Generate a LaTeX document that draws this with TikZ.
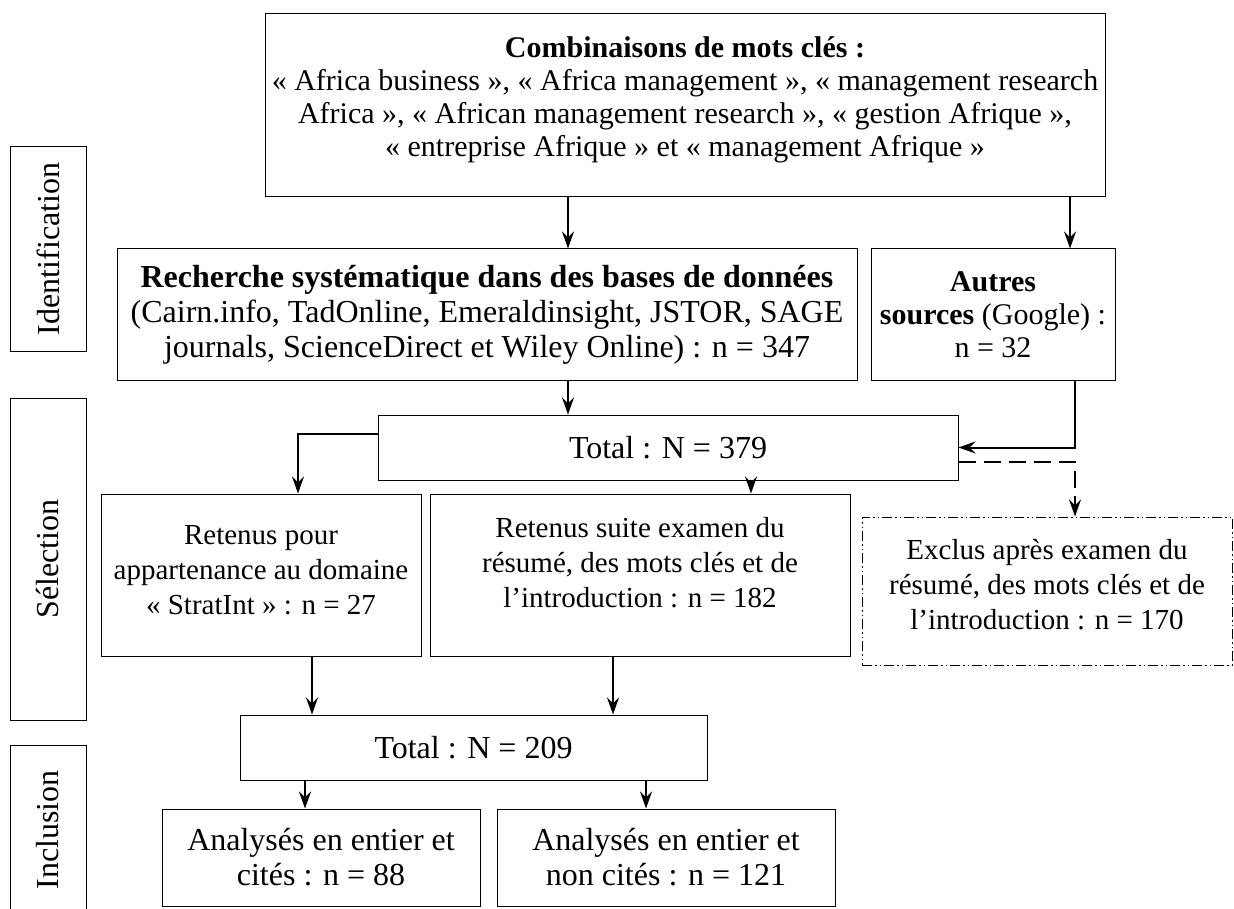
\documentclass[tikz,border=0pt]{standalone}
\usepackage{fontspec}
\setmainfont{Liberation Serif}
\usetikzlibrary{arrows.meta}
\tikzset{
  box/.style={draw, line width=1pt, align=center, inner sep=2pt,
    font=\fontsize{32}{35}\selectfont},
  midbox/.style={box, font=\fontsize{30}{33}\selectfont},
  smallbox/.style={box, font=\fontsize{29}{35}\selectfont},
  lab/.style={draw, line width=1pt, minimum height=76pt, rotate=90,
    font=\fontsize{32}{35}\selectfont},
  arr/.style={line width=2pt, -{Stealth[length=17pt, width=12pt, inset=6pt]}},
  dasharr/.style={arr, dash pattern=on 17pt off 8pt},
  dashdotbox/.style={smallbox, dash pattern=on 10pt off 3pt on 1.5pt off 3pt on 1.5pt off 3pt}
}

\begin{document}
\begin{tikzpicture}[x=1pt, y=-1pt]
		%%%%% START %%%%%
		\useasboundingbox (0, 0) rectangle (1234, 909);
		
		% left labels
		\node[lab, minimum width=205pt] (labid) at (48, 249) {Identification};
		\node[lab, minimum width=322pt] (labsel) at (48, 559) {Sélection};
		\node[lab, minimum width=170pt] (labinc) at (48, 830) {Inclusion};
		
		% identification
		\node[midbox, minimum width=840pt, minimum height=183pt] (keys) at (685, 105.5)
		  {\textbf{Combinaisons de mots clés :}\\
		   « Africa business », « Africa management », « management research\\
		   Africa », « African management research », « gestion Afrique »,\\
		   « entreprise Afrique » et « management Afrique »\\[-15pt]\mbox{}};
		\node[box, minimum width=740pt, minimum height=131pt] (rech) at (487, 314.5)
		  {\textbf{Recherche systématique dans des bases de données}\\
		   (Cairn.info, TadOnline, Emeraldinsight, JSTOR, SAGE\\
		   journals, ScienceDirect et Wiley Online) : n = 347};
		\node[midbox, minimum width=244pt, minimum height=131pt] (autres) at (993, 314.5)
		  {\textbf{Autres}\\\textbf{sources} (Google) :\\n = 32};
		\node[box, minimum width=580pt, minimum height=65pt] (tot1) at (668, 447.5)
		  {Total : N = 379};
		
		% selection
		\node[smallbox, minimum width=320pt, minimum height=162pt] (ret1) at (261, 575)
		  {Retenus pour\\appartenance au domaine\\« StratInt » : n = 27\\[-25pt]\mbox{}};
		\node[smallbox, minimum width=420pt, minimum height=162pt] (ret2) at (640, 575)
		  {Retenus suite examen du\\résumé, des mots clés et de\\l’introduction : n = 182\\[-9pt]\mbox{}};
		\node[dashdotbox, minimum width=370pt, minimum height=148pt] (excl) at (1047, 591)
		  {Exclus après examen du\\résumé, des mots clés et de\\l’introduction : n = 170\\[-21pt]\mbox{}};
		\node[box, minimum width=467pt, minimum height=65pt] (tot2) at (473.5, 747.5)
		  {Total : N = 209};
		
		% inclusion
		\node[box, minimum width=318pt, minimum height=97pt] (ana1) at (321, 857.5)
		  {Analysés en entier et\\cités : n = 88};
		\node[box, minimum width=338pt, minimum height=97pt] (ana2) at (666, 857.5)
		  {Analysés en entier et\\non cités : n = 121};
		
		% arrows
		\draw[arr] ([xshift=-117pt]keys.south) -- ([xshift=81pt]rech.north);
		\draw[arr] ([xshift=385pt]keys.south) -- ([xshift=77pt]autres.north);
		\draw[arr] ([xshift=81pt]rech.south) -- ([xshift=-100pt]tot1.north);
		\draw[arr] ([xshift=82pt]autres.south) |- (tot1.east);
		\draw[arr] ([yshift=14pt]tot1.west) -| ([xshift=37pt]ret1.north);
		\draw[arr] ([xshift=83pt]tot1.south) -- ([xshift=111pt]ret2.north);
		\draw[dasharr] ([yshift=-14.5pt]tot1.east) -| ([xshift=28pt]excl.north);
		\draw[arr] ([xshift=51pt]ret1.south) -- ([xshift=-161.5pt]tot2.north);
		\draw[arr] ([xshift=-27pt]ret2.south) -- ([xshift=139.5pt]tot2.north);
		\draw[arr] ([xshift=-168.5pt]tot2.south) -- ([xshift=-16pt]ana1.north);
		\draw[arr] ([xshift=172.5pt]tot2.south) -- ([xshift=-20pt]ana2.north);
		
		%%%%% END %%%%%
	\end{tikzpicture}
\end{document}
